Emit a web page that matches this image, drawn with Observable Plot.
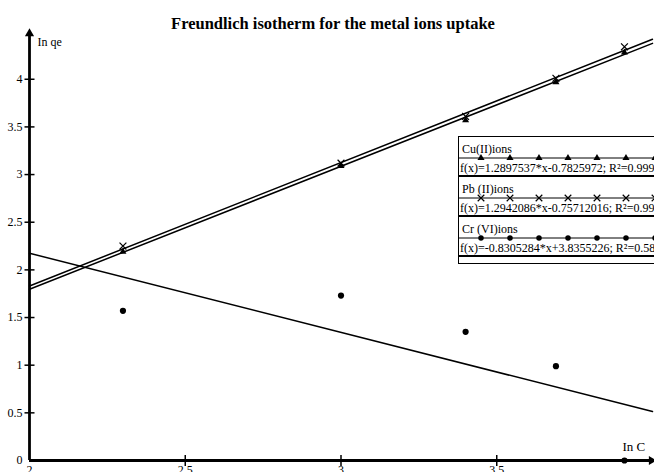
<!DOCTYPE html>
<html><head><meta charset="utf-8">
<script src="https://cdn.jsdelivr.net/npm/d3@7"></script>
<script src="https://cdn.jsdelivr.net/npm/@observablehq/plot@0.6"></script>
<style>
html,body{margin:0;padding:0;background:#fff;}
#wrap{position:relative;width:654px;height:472px;overflow:hidden;font-family:"Liberation Serif","Times New Roman",serif;color:#000;}
#wrap svg.plot{position:absolute;left:0;top:0;}
#legend{position:absolute;left:458px;top:136px;width:280px;border:1px solid #000;background:#fff;}
.row{padding-top:6px;}
.lab{font-size:12px;line-height:12px;height:12px;padding-left:3px;white-space:nowrap;}
.eq{font-size:12px;line-height:14px;height:14px;padding-left:1px;white-space:nowrap;border-bottom:2px solid #000;}
.sw{display:block;height:6px;overflow:visible;}
</style></head>
<body>
<div id="wrap"></div>
<script>
// ---- data ----
const title = "Freundlich isotherm for the metal ions uptake";
const xLabel = "In C";
const yLabel = "In qe";
const xDomain = [2, 4];
const yDomain = [0, 4.48];
const xTickLabels = [2, 2.5, 3, 3.5];
const xTickMarks = [2.5, 3, 3.5];
const yTickLabels = [0, 0.5, 1, 1.5, 2, 2.5, 3, 3.5, 4];
const yTickMarks = [0.5, 1, 1.5, 2, 2.5, 3, 3.5, 4];

const lnC    = [2.30, 3.00, 3.40, 3.69, 3.91];
const cuLnQe = [2.19, 3.09, 3.57, 3.97, 4.28];
const pbLnQe = [2.25, 3.12, 3.61, 4.01, 4.34];
const crLnQe = [1.57, 1.73, 1.35, 0.99, 0.00];

const seriesNames = ["Cu(II)ions", "Pb (II)ions", "Cr (VI)ions"];
const fitSlopes = [1.2897537, 1.2942086, -0.8305284];
const fitIntercepts = [-0.7825972, -0.75712016, 3.8355226];
const fitLabels = [
  "f(x)=1.2897537*x-0.7825972; R²=0.9997",
  "f(x)=1.2942086*x-0.75712016; R²=0.9997",
  "f(x)=-0.8305284*x+3.8355226; R²=0.5849"
];

// ---- build tables ----
const pts = (ys, s) => lnC.map((x, i) => ({x, y: ys[i], s}));
const cu = pts(cuLnQe, 0), pb = pts(pbLnQe, 1), cr = pts(crLnQe, 2);
const fits = fitSlopes.flatMap((m, i) => xDomain.map(x => ({x, y: m * x + fitIntercepts[i], s: i})));

const hDash = {draw(ctx, size){const r = Math.sqrt(size / Math.PI); ctx.moveTo(-r, 0); ctx.lineTo(r, 0);}};
const vDash = {draw(ctx, size){const r = Math.sqrt(size / Math.PI); ctx.moveTo(0, -r); ctx.lineTo(0, r);}};

const plot = Plot.plot({
  width: 654, height: 472,
  marginLeft: 29, marginRight: 2, marginTop: 33, marginBottom: 12,
  style: {fontFamily: "'Liberation Serif', 'Times New Roman', serif", fontSize: "12px", background: "transparent", overflow: "hidden"},
  x: {domain: xDomain, axis: null},
  y: {domain: yDomain, axis: null},
  marks: [
    Plot.line(fits, {x: "x", y: "y", z: "s", stroke: "#000", strokeWidth: 1.5}),
    Plot.ruleY([yDomain[0]], {stroke: "#000", strokeWidth: 2.8}),
    Plot.ruleX([xDomain[0]], {stroke: "#000", strokeWidth: 2.8}),
    Plot.dot(yTickMarks, {x: () => xDomain[0], y: d => d, symbol: hDash, r: 5, stroke: "#000", strokeWidth: 1.5}),
    Plot.dot(xTickMarks, {x: d => d, y: () => yDomain[0], symbol: vDash, r: 5.5, stroke: "#000", strokeWidth: 1.5}),
    Plot.dot([0], {x: () => xDomain[0], y: () => yDomain[1], symbol: "triangle", r: 3.4, fill: "#000", stroke: "none"}),
    Plot.dot([0], {x: () => xDomain[1], y: () => yDomain[0], symbol: "triangle", r: 3.4, rotate: 90, fill: "#000", stroke: "none", dx: -1}),
    Plot.axisY({ticks: yTickLabels, tickSize: 0, tickPadding: 7, label: null, fontSize: 12, tickFormat: d => String(d)}),
    Plot.axisX({ticks: xTickLabels, tickSize: 0, tickPadding: 5, label: null, fontSize: 12, tickFormat: d => String(d)}),
    Plot.dot(cr, {x: "x", y: "y", r: 3.1, fill: "#000", stroke: "none"}),
    Plot.dot(cu, {x: "x", y: "y", symbol: "triangle", r: 2.6, fill: "#000", stroke: "none"}),
    Plot.dot(pb, {x: "x", y: "y", symbol: "times", r: 3.2, stroke: "#000", strokeWidth: 1.2}),
    Plot.text([yLabel], {frameAnchor: "top-left", dx: 8, dy: 4, text: d => d, fontSize: 12, textAnchor: "start", lineAnchor: "top"}),
    Plot.text([xLabel], {frameAnchor: "bottom-right", dx: -30, dy: -10, text: d => d, fontSize: 13, textAnchor: "start", lineAnchor: "bottom"}),
    Plot.text([title], {frameAnchor: "top", dx: -8, dy: -5, text: d => d, fontSize: 16.5, fontWeight: "bold", lineAnchor: "bottom"})
  ]
});
plot.classList.add("plot");
const wrap = document.getElementById("wrap");
wrap.appendChild(plot);

// ---- legend ----
const legend = document.createElement("div");
legend.id = "legend";
const symGen = [d3.symbolTriangle, d3.symbolTimes, d3.symbolCircle];
const symSize = [22, 30, 24];
seriesNames.forEach((name, i) => {
  const row = document.createElement("div");
  row.className = "row";
  const lab = document.createElement("div");
  lab.className = "lab"; lab.textContent = name;
  row.appendChild(lab);
  const svg = d3.create("svg").attr("class", "sw").attr("width", 280).attr("height", 6);
  svg.append("line").attr("x1", 0).attr("x2", 280).attr("y1", 3).attr("y2", 3).attr("stroke", "#000").attr("stroke-width", 1);
  d3.range(7).forEach(k => {
    const p = svg.append("path").attr("d", d3.symbol(symGen[i], symSize[i])()).attr("transform", `translate(${22 + 29 * k},3)`);
    if (i === 1) p.attr("fill", "none").attr("stroke", "#000").attr("stroke-width", 1.2);
    else p.attr("fill", "#000");
  });
  row.appendChild(svg.node());
  const eq = document.createElement("div");
  eq.className = "eq"; eq.textContent = fitLabels[i];
  row.appendChild(eq);
  legend.appendChild(row);
});
const pad = document.createElement("div");
pad.style.height = "6px";
legend.appendChild(pad);
wrap.appendChild(legend);
</script>
</body></html>
